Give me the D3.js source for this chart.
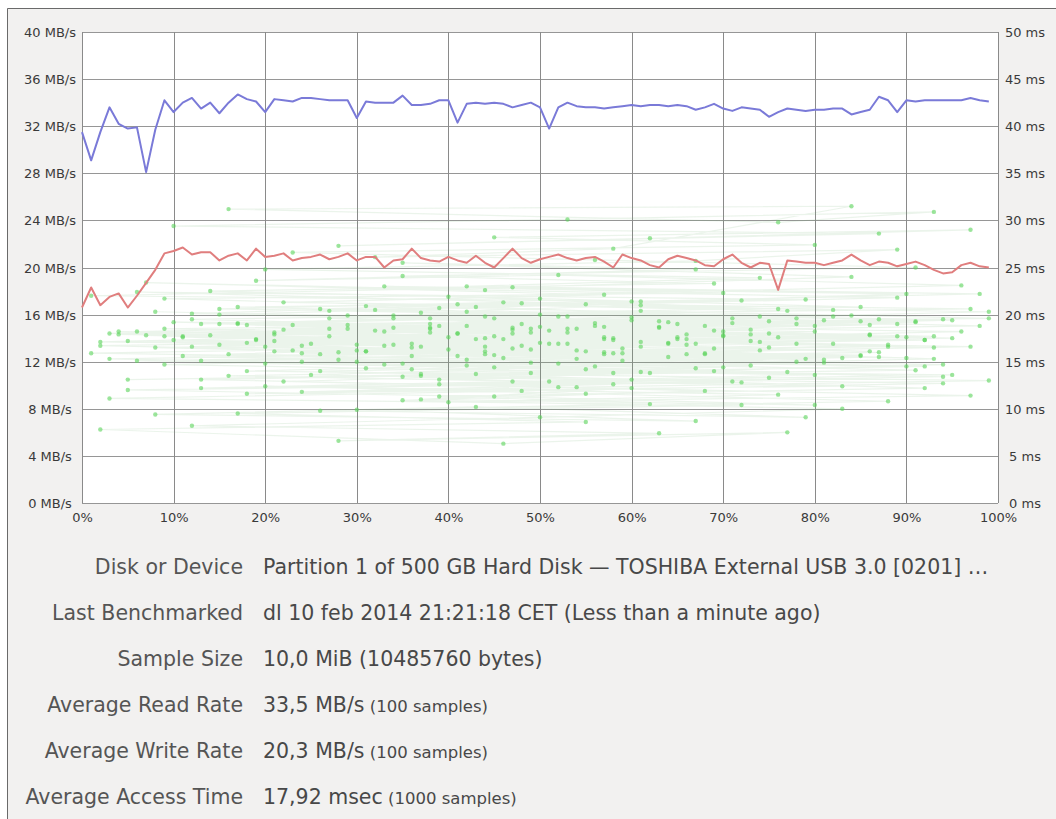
<!DOCTYPE html>
<html>
<head>
<meta charset="utf-8">
<script src="https://cdn.jsdelivr.net/npm/d3@7"></script>
<style>
  html, body { margin: 0; padding: 0; background: #ffffff; }
  svg { display: block; }
</style>
</head>
<body>
<div id="chart"></div>
<script>
const WIDTH = 1056;
const HEIGHT = 819;

// tick values
const posTicks = [0,10,20,30,40,50,60,70,80,90,100];
const rateTicks = [0,4,8,12,16,20,24,28,32,36,40];
const msTicks = [0,5,10,15,20,25,30,35,40,45,50];

// read rate, MB/s, one sample per percent (0..99)
const readRate = [
  31.5,29.1,31.5,33.6,32.2,31.8,31.9,28.1,31.7,34.2,
  33.2,34.0,34.4,33.5,34.0,33.1,34.0,34.7,34.3,34.1,
  33.2,34.3,34.2,34.1,34.4,34.4,34.3,34.2,34.2,34.2,
  32.7,34.1,34.0,34.0,34.0,34.6,33.8,33.8,33.9,34.2,
  34.2,32.3,33.9,34.0,33.9,34.0,33.9,33.6,33.8,34.0,
  33.6,31.8,33.6,34.0,33.7,33.6,33.6,33.5,33.6,33.7,
  33.8,33.7,33.8,33.8,33.7,33.8,33.7,33.4,33.6,33.9,
  33.5,33.3,33.6,33.5,33.4,32.8,33.2,33.5,33.4,33.3,
  33.4,33.4,33.5,33.5,33.0,33.2,33.4,34.5,34.2,33.2,
  34.2,34.1,34.2,34.2,34.2,34.2,34.2,34.4,34.2,34.1
];

// write rate, MB/s
const writeRate = [
  16.6,18.3,16.8,17.5,17.8,16.6,17.6,18.7,19.8,21.2,
  21.4,21.7,21.1,21.3,21.3,20.6,21.0,21.2,20.6,21.6,
  20.9,21.0,21.2,20.6,20.8,20.9,21.1,20.7,20.9,21.2,
  20.6,20.9,20.9,20.0,20.6,20.7,21.6,20.8,20.6,20.5,
  20.9,20.6,20.4,21.0,20.4,20.0,20.8,21.6,20.8,20.4,
  20.7,20.9,21.1,20.8,20.6,20.8,20.9,20.5,20.0,21.1,
  20.8,20.6,20.2,20.0,20.7,21.0,20.8,20.6,20.2,20.1,
  20.7,21.1,20.4,20.0,20.4,20.3,18.1,20.6,20.5,20.4,
  20.4,20.2,20.4,20.6,21.1,20.6,20.2,20.5,20.4,20.1,
  20.3,20.5,20.2,19.8,19.5,19.6,20.2,20.4,20.1,20.0
];

// access time samples: [position %, msec], in the order they were taken
const accessSamples = [
  [4,18.2],[57,17.6],[23,18.9],[81,19.4],[38,18.1],[92,17.3],[15,16.8],[66,17.9],[45,19.6],[8,20.3],
  [71,19.1],[29,18.5],[86,17.8],[52,16.9],[19,17.4],[63,18.6],[34,19.9],[97,20.6],[48,21.2],[12,20.1],
  [75,19.3],[41,18.0],[2,17.1],[59,16.4],[26,15.8],[88,16.6],[44,17.5],[69,18.3],[17,19.0],[53,19.8],
  [31,20.9],[79,21.6],[6,22.4],[61,21.0],[37,20.2],[94,19.5],[50,18.7],[21,17.9],[73,17.2],[40,16.3],
  [85,15.7],[13,15.1],[58,15.9],[33,16.7],[90,17.6],[47,18.4],[10,19.2],[68,18.8],[27,17.7],[82,16.9],
  [55,16.1],[3,15.3],[42,14.6],[77,13.9],[20,14.8],[64,15.5],[36,14.2],[95,13.6],[51,12.9],[16,13.5],
  [70,14.4],[28,15.2],[87,16.0],[46,15.4],[9,14.7],[62,13.8],[39,13.1],[83,12.4],[24,11.8],[58,12.6],
  [35,13.4],[91,14.1],[49,14.9],[11,15.6],[74,16.2],[30,15.0],[67,14.3],[43,13.7],[99,13.0],[54,12.3],
  [18,11.6],[60,12.2],[37,11.0],[80,10.4],[45,11.3],[5,12.0],[72,12.8],[25,13.6],[56,14.5],[93,15.3],
  [48,16.7],[14,17.8],[65,19.0],[32,20.5],[89,21.8],[44,22.6],[7,23.4],[57,22.1],[22,21.3],[76,20.6],
  [40,21.9],[96,23.1],[52,24.2],[19,23.6],[67,24.8],[35,25.5],[84,24.0],[47,22.9],[1,22.0],[61,21.4],
  [27,20.4],[78,19.6],[43,20.8],[9,21.7],[70,22.3],[33,23.0],[90,22.2],[55,21.1],[15,20.0],[63,19.3],
  [38,18.6],[86,17.9],[50,17.0],[23,16.2],[74,17.1],[41,18.0],[98,18.8],[60,19.7],[29,18.9],[80,18.2],
  [46,17.4],[12,16.6],[68,15.8],[36,16.5],[92,17.3],[53,18.1],[18,18.9],[71,19.6],[42,20.3],[87,19.5],
  [57,18.7],[4,17.9],[64,17.0],[31,16.1],[83,15.4],[49,16.3],[21,17.2],[75,18.0],[39,18.8],[95,19.4],
  [54,18.5],[11,17.6],[66,16.8],[28,16.0],[81,15.2],[45,14.4],[6,15.1],[59,15.9],[34,16.8],[89,17.7],
  [51,16.9],[16,15.8],[73,14.6],[37,13.5],[94,12.7],[48,11.9],[3,11.1],[62,10.5],[26,9.8],[79,9.1],
  [43,10.2],[8,9.4],[67,8.7],[30,9.9],[88,10.8],[55,11.6],[20,12.4],[76,11.5],[40,10.7],[97,11.4],
  [52,12.3],[13,13.1],[69,14.0],[35,14.8],[85,15.6],[47,16.4],[10,17.3],[61,16.6],[24,15.9],[78,15.0],
  [44,15.8],[2,16.7],[58,17.5],[32,18.3],[91,19.2],[50,20.0],[17,20.8],[72,21.5],[39,20.7],[84,19.9],
  [56,19.1],[22,18.4],[65,17.6],[30,16.8],[93,17.7],[47,18.6],[12,19.5],[77,20.4],[41,21.1],[99,20.3],
  [60,19.4],[27,18.5],[70,17.7],[36,16.9],[86,16.1],[53,16.9],[7,17.8],[63,18.7],[34,19.6],[82,20.5],
  [46,21.3],[15,20.6],[74,19.8],[38,19.0],[96,18.2],[57,17.4],[20,16.6],[68,15.9],[42,15.2],[90,14.5],
  [49,13.8],[5,13.1],[61,13.9],[33,14.7],[87,15.5],[52,14.8],[18,14.0],[75,13.3],[39,12.6],[94,13.4],
  [55,14.2],[24,15.0],[66,15.8],[44,16.6],[1,15.9],[59,15.1],[31,14.3],[80,13.6],[47,12.9],[13,12.2],
  [71,12.9],[37,13.7],[92,14.5],[54,15.3],[21,16.1],[78,16.9],[45,17.7],[9,18.5],[64,19.2],[29,19.9],
  [85,20.8],[50,21.7],[14,22.5],[69,23.3],[35,24.1],[91,25.0],[56,25.8],[23,26.6],[80,27.4],[45,28.2],
  [97,29.0],[62,28.1],[28,27.3],[87,28.6],[10,29.4],[53,30.1],[93,30.9],[76,29.8],[16,31.2],[84,31.5],
  [58,27.0],[32,26.1],[89,26.9],[67,25.7],[20,24.8],[74,23.9],[42,23.0],[98,22.2],[60,21.4],[26,20.6],
  [82,19.8],[48,19.0],[6,18.2],[65,17.4],[37,16.6],[95,17.5],[51,18.3],[17,19.1],[73,18.4],[40,17.6],
  [88,16.8],[57,16.0],[25,16.9],[70,17.8],[34,18.6],[91,19.3],[53,18.5],[11,17.7],[67,16.9],[44,16.1],
  [79,15.3],[30,16.2],[61,17.1],[3,18.0],[56,18.8],[38,19.6],[86,18.9],[49,18.1],[19,17.3],[75,16.5],
  [41,15.6],[94,14.7],[58,13.8],[22,12.9],[68,11.9],[35,10.9],[83,10.0],[50,9.1],[12,8.2],[63,7.4],
  [28,6.6],[77,7.5],[46,6.3],[2,7.8],[55,8.6],[17,9.5],[72,10.4],[39,11.3],[92,12.2],[60,13.1],
  [26,14.0],[81,14.9],[45,15.7],[8,16.5],[66,17.4],[33,18.2],[89,19.0],[52,19.8],[15,19.0],[70,18.2],
  [43,17.4],[97,16.6],[57,15.8],[24,16.7],[76,17.6],[38,18.5],[85,19.3],[49,18.5],[9,17.7],[64,16.9],
  [31,16.1],[90,15.4],[54,16.2],[18,17.0],[73,17.9],[42,18.8],[99,19.6],[61,20.4],[27,19.6],[80,18.8],
  [47,18.0],[5,17.2],[69,16.4],[36,15.6],[93,16.5],[58,17.3],[21,18.1],[78,19.0],[44,19.8],[13,19.0]
];

// info table below the chart
const infoLabels = ["Disk or Device","Last Benchmarked","Sample Size","Average Read Rate","Average Write Rate","Average Access Time"];
const infoValues = [
  "Partition 1 of 500 GB Hard Disk \u2014 TOSHIBA External USB 3.0 [0201] \u2026",
  "dl 10 feb 2014 21:21:18 CET (Less than a minute ago)",
  "10,0 MiB (10485760 bytes)",
  "33,5 MB/s",
  "20,3 MB/s",
  "17,92 msec"
];
const infoNotes = ["","","","(100 samples)","(100 samples)","(1000 samples)"];

function main(){
    let svg = d3.select("#chart")
        .append("svg")
        .attr("width",WIDTH)
        .attr("height",HEIGHT)
        .style("font-family","'DejaVu Sans', sans-serif");

    // window background + frame
    svg.append("rect").attr("x",0).attr("y",0).attr("width",WIDTH).attr("height",HEIGHT).attr("fill","#ffffff");
    svg.append("rect").attr("x",7).attr("y",8).attr("width",WIDTH-7).attr("height",HEIGHT-8).attr("fill","#f2f1f0");
    svg.append("path").attr("d",`M7.5,${HEIGHT} V8.5 H${WIDTH}`).attr("fill","none").attr("stroke","#6a6a6a").attr("stroke-width",1);

    let left = 82, right = 998, top = 32, bottom = 503;

    let x = d3.scaleLinear().domain([0,100]).range([left,right]);
    let yRate = d3.scaleLinear().domain([0,40]).range([bottom,top]);
    let yMs = d3.scaleLinear().domain([0,50]).range([bottom,top]);

    svg.append("rect")
        .attr("x",left).attr("y",top)
        .attr("width",right-left).attr("height",bottom-top)
        .attr("fill","#ffffff");

    // horizontal grid + MB/s labels
    let yAxis = d3.axisLeft(yRate)
        .tickValues(rateTicks)
        .tickSize(-(right-left))
        .tickFormat(d => d+" MB/s");
    let gy = svg.append("g").attr("transform",`translate(${left},0)`).call(yAxis);
    gy.select(".domain").remove();
    gy.selectAll("line").attr("stroke","#969696").attr("shape-rendering","crispEdges");
    gy.selectAll("text")
        .attr("x",50-left).attr("dy","0.35em")
        .attr("text-anchor","middle")
        .attr("font-size",13).attr("font-family","'DejaVu Sans', sans-serif")
        .attr("fill","#3a3a3a");

    // vertical grid + percent labels
    let xAxis = d3.axisBottom(x)
        .tickValues(posTicks)
        .tickSize(-(bottom-top))
        .tickFormat(d => d+"%");
    let gx = svg.append("g").attr("transform",`translate(0,${bottom})`).call(xAxis);
    gx.select(".domain").remove();
    gx.selectAll("line").attr("stroke","#8a8a8a").attr("shape-rendering","crispEdges");
    gx.selectAll("text")
        .attr("y",14).attr("dy","0.35em")
        .attr("font-size",13).attr("font-family","'DejaVu Sans', sans-serif")
        .attr("fill","#3a3a3a");

    // ms labels on the right
    let msAxis = d3.axisRight(yMs)
        .tickValues(msTicks)
        .tickSize(0)
        .tickFormat(d => d+" ms");
    let gm = svg.append("g").attr("transform",`translate(${right},0)`).call(msAxis);
    gm.select(".domain").remove();
    gm.selectAll("text")
        .attr("x",1025-right).attr("dy","0.35em")
        .attr("text-anchor","middle")
        .attr("font-size",13).attr("font-family","'DejaVu Sans', sans-serif")
        .attr("fill","#3a3a3a");

    // access time: faint trail between consecutive samples, then dots
    let trail = d3.line()
        .x(d => x(d[0]))
        .y(d => yMs(d[1]));
    svg.append("path")
        .datum(accessSamples)
        .attr("d",trail)
        .attr("fill","none")
        .attr("stroke","rgba(110,175,110,0.14)")
        .attr("stroke-width",1.2);

    svg.selectAll(".access")
        .data(accessSamples)
        .enter()
        .append("circle")
        .attr("class","access")
        .attr("cx",d => x(d[0]))
        .attr("cy",d => yMs(d[1]))
        .attr("r",2.2)
        .attr("fill","rgba(90,212,90,0.6)");

    // write + read lines
    let rateLine = d3.line()
        .x((d,i) => x(i))
        .y(d => yRate(d));
    svg.append("path")
        .datum(writeRate)
        .attr("d",rateLine)
        .attr("fill","none")
        .attr("stroke","#e07e7e")
        .attr("stroke-width",2)
        .attr("stroke-linejoin","round");
    svg.append("path")
        .datum(readRate)
        .attr("d",rateLine)
        .attr("fill","none")
        .attr("stroke","#7a7ad8")
        .attr("stroke-width",2)
        .attr("stroke-linejoin","round");

    // info table
    let info = svg.append("g").attr("font-size",20.5);
    infoLabels.forEach((label,i) => {
        let yy = 567 + i*46;
        info.append("text")
            .attr("x",243).attr("y",yy).attr("dy","0.35em")
            .attr("text-anchor","end")
            .attr("fill","#555")
            .text(label);
        let t = info.append("text")
            .attr("x",263).attr("y",yy).attr("dy","0.35em")
            .attr("fill","#484848");
        t.append("tspan").text(infoValues[i]);
        if (infoNotes[i]) {
            t.append("tspan").attr("font-size",16.5).text(" "+infoNotes[i]);
        }
    });
}

window.addEventListener("load",main);
</script>
</body>
</html>
